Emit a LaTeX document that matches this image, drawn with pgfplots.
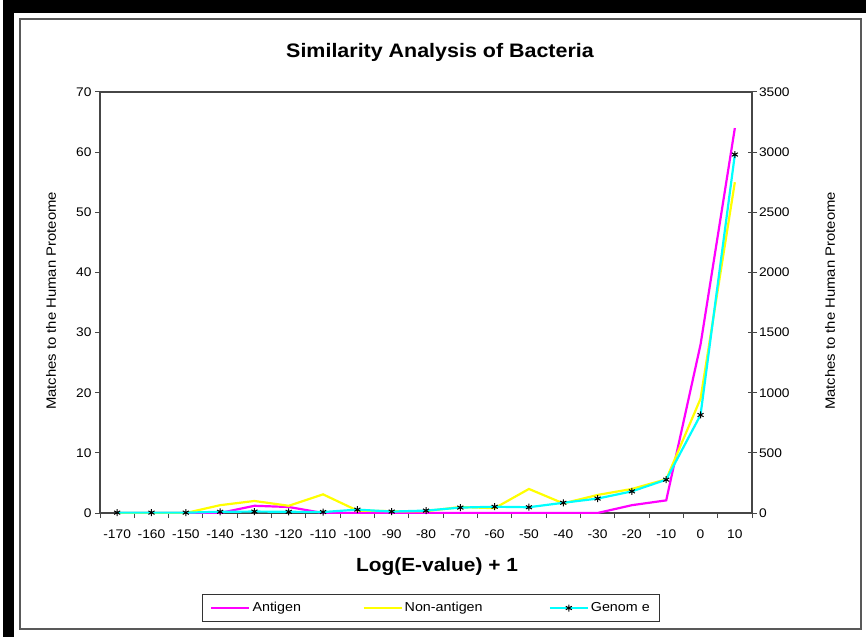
\documentclass[border=0pt]{standalone}
\usepackage{fontspec}
\setmainfont[FakeStretch=1.1]{Liberation Sans}
\usepackage{pgfplots}
\pgfplotsset{compat=1.18}
\definecolor{mag}{RGB}{255,0,255}
\definecolor{yel}{RGB}{255,255,0}
\definecolor{cya}{RGB}{0,255,255}
\definecolor{axgray}{RGB}{70,70,70}
\begin{document}
\begin{tikzpicture}[x=1pt,y=1pt]
\path[use as bounding box] (0,0) rectangle (866,637);
\fill[white] (0,0) rectangle (866,637);
\fill[black] (3,624) rectangle (866,637);
\fill[black] (3,0) rectangle (14,637);
\draw[black!65,line width=1.5pt] (20,618) rectangle (861,8);
\node[font=\fontsize{19.5}{22}\selectfont\bfseries] at (440,585) {Similarity Analysis of Bacteria};
\node[font=\fontsize{19}{22}\selectfont\bfseries] at (437,70) {Log(E-value) + 1};
\node[font=\fontsize{13.5}{16}\selectfont,rotate=90] at (51,336) {Matches to the Human Proteome};
\node[font=\fontsize{13.5}{16}\selectfont,rotate=90] at (830,336) {Matches to the Human Proteome};
\begin{axis}[
  at={(100pt,124pt)}, anchor=south west,
  width=652pt, height=421pt, scale only axis,
  xmin=-175, xmax=15, ymin=0, ymax=70,
  axis line style={axgray, line width=1.2pt},
  xtick={-170,-160,...,10},
  major x tick style={draw=none},
  minor xtick={-175,-165,...,15},
  minor x tick style={axgray, line width=1pt},
  minor tick length=5pt,
  xtick pos=bottom, xtick align=outside,
  ytick={0,10,...,70}, ytick pos=left, ytick align=outside,
  major tick length=5pt,
  y tick style={axgray, line width=1pt},
  /pgf/number format/assume math mode=true,
  tick label style={font=\fontsize{12.5}{14}\selectfont},
  xticklabel style={yshift=-8pt},
  legend style={at={(0.5077,-0.2257)}, anchor=center, draw=black!80, line width=1.2pt,
    font=\fontsize{13}{15}\selectfont, legend columns=3,
    /tikz/every even column/.append style={column sep=0pt},
    inner xsep=8pt, inner ysep=6pt},
  legend cell align=left,
  legend image code/.code={\draw[mark repeat=2,mark phase=2,#1] plot coordinates {(0pt,0pt) (19pt,0pt) (38pt,0pt)};},
]
\addplot[mag, line width=2.2pt, mark=none] coordinates {
(-170,0) (-160,0) (-150,0) (-140,0) (-130,1.2) (-120,1.0) (-110,0) (-100,0) (-90,0) (-80,0)
(-70,0) (-60,0) (-50,0) (-40,0) (-30,0) (-20,1.3) (-10,2.1) (0,28) (10,64)};
\addlegendentry{\makebox[108pt][l]{Antigen}}
\addplot[yel, line width=2.2pt, mark=none] coordinates {
(-170,0) (-160,0) (-150,0) (-140,1.3) (-130,2.0) (-120,1.2) (-110,3.1) (-100,0.4) (-90,0.3) (-80,0.3)
(-70,1.0) (-60,0.8) (-50,4.0) (-40,1.6) (-30,3.0) (-20,4.0) (-10,5.6) (0,19) (10,55)};
\addlegendentry{\makebox[142pt][l]{Non-antigen}}
\addlegendimage{cya, line width=2.2pt, mark=asterisk, mark size=3.5pt, mark options={black, line width=1pt}}
\addlegendentry{Genom e}
\end{axis}
\begin{axis}[
  at={(100pt,124pt)}, anchor=south west,
  width=652pt, height=421pt, scale only axis,
  xmin=-175, xmax=15, ymin=0, ymax=3500,
  axis x line=none, axis y line*=right,
  axis line style={axgray, line width=1.2pt},
  ytick={0,500,...,3500}, ytick align=center,
  major tick length=9pt,
  y tick style={axgray, line width=1pt},
  /pgf/number format/assume math mode=true,
  /pgf/number format/1000 sep={},
  yticklabel style={font=\fontsize{12.5}{14}\selectfont, xshift=-1pt},
]
\addplot[cya, line width=2.2pt, mark=asterisk, mark size=3.5pt, mark options={black, line width=1pt}] coordinates {
(-170,3) (-160,3) (-150,3) (-140,10) (-130,12) (-120,10) (-110,8) (-100,28) (-90,12) (-80,20)
(-70,45) (-60,52) (-50,48) (-40,85) (-30,120) (-20,180) (-10,277) (0,815) (10,2980)};
\end{axis}
\end{tikzpicture}
\end{document}
